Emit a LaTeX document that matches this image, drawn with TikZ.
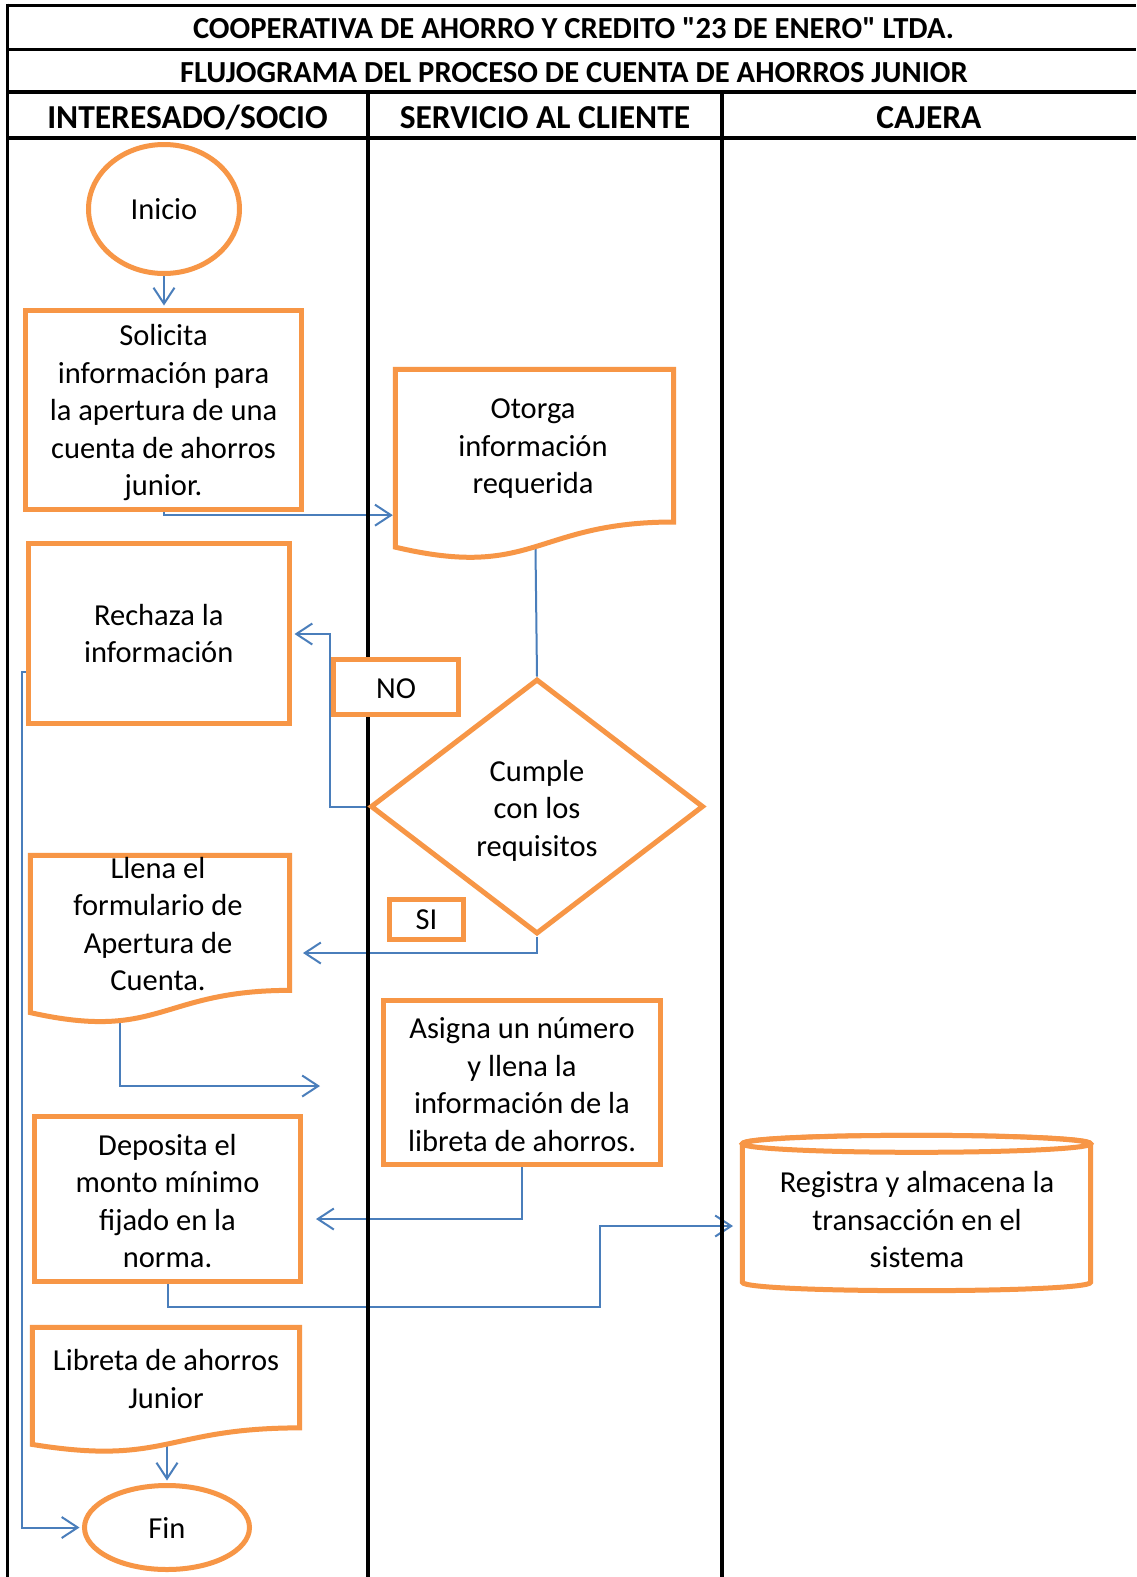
\documentclass[tikz,border=0pt]{standalone}
\usepackage{fontspec}
\setmainfont{Carlito}
\usetikzlibrary{shapes.geometric,arrows.meta,calc}

\definecolor{shapeorange}{HTML}{F79646}
\definecolor{linkblue}{HTML}{4A7EBB}

\pgfdeclarelayer{paper}
\pgfdeclarelayer{links}
\pgfdeclarelayer{grid}
\pgfsetlayers{paper,links,grid,main}

% document symbol with a wavy lower edge, drawn over an invisible frame node
\newcommand\docoutline[1]{%
  \path[outline] (#1.north west) -- (#1.north east)
    -- ($(#1.north east)!0.802!(#1.south east)$)
    .. controls ($(#1.north)!0.802!(#1.south)$) and ($(#1.north)!1.1075!(#1.south)$)
    .. ($(#1.north west)!0.934!(#1.south west)$) -- cycle;}

\begin{document}
\begin{tikzpicture}[x=1pt,y=-1pt,
  every node/.style={font=\fontsize{30.5}{37.5}\selectfont, align=center, inner sep=0pt},
  every label/.style={font=\fontsize{30.5}{37.5}\selectfont, align=center, inner sep=0pt},
  outline/.style={draw=shapeorange, line width=5pt, fill=white, line join=miter},
  box/.style={outline, rectangle},
  frame/.style={rectangle, draw=none},
  link/.style={draw=linkblue, line width=2pt},
  arrowlink/.style={link, -{Straight Barb[length=16pt,width=21pt]}},
  tonode/.style={arrowlink, shorten >=2.5pt},
  title/.style={font=\fontsize{30.6}{36}\selectfont\bfseries, anchor=base},
  lane/.style={font=\fontsize{33.5}{40}\selectfont\bfseries, anchor=base},
  rule/.style={black, line width=#1},
]
\useasboundingbox (0,0) rectangle (1136,1577);
\begin{pgfonlayer}{paper}
  \fill[white] (0,0) rectangle (1136,1577);
\end{pgfonlayer}

% ---------- table frame ----------
\begin{pgfonlayer}{grid}
  \draw[rule=3pt] (7,5) -- (1136,5);
  \draw[rule=3pt] (7,49.5) -- (1136,49.5);
  \draw[rule=4pt] (7,92) -- (1136,92);
  \draw[rule=4pt] (7,137.5) -- (1136,137.5);
  \draw[rule=3pt] (7,3.5) -- (7,1577);
  \draw[rule=4pt] (368,92) -- (368,1577);
  \draw[rule=4pt] (722,92) -- (722,1577);
\end{pgfonlayer}

\node[title] (coop) at (573.5,38.5) {COOPERATIVA DE AHORRO Y CREDITO \textquotedbl 23 DE ENERO\textquotedbl{} LTDA.};
\node[title] (flujo) at (574,82) {FLUJOGRAMA DEL PROCESO DE CUENTA DE AHORROS JUNIOR};
\node[lane] (socio) at (187.5,128.3) {INTERESADO/SOCIO};
\node[lane] (servicio) at (545,128.3) {SERVICIO AL CLIENTE};
\node[lane] (cajera) at (929,128.3) {CAJERA};

% ---------- flow symbols ----------
\node[outline, ellipse, minimum width=151pt, minimum height=129pt] (inicio) at (164,209) {Inicio};

\node[box, minimum width=276pt, minimum height=199pt,
  label={[name=solicitatext, yshift=-3pt]center:{Solicita\\información para\\la apertura de una\\cuenta de ahorros\\junior.}}]
  (solicita) at (163.5,410) {};

\node[frame, minimum width=278pt, minimum height=190pt] (otorga) at (534.5,464.5) {};
\docoutline{otorga}
\node (otorgatext) at (533,449) {Otorga\\información\\requerida};

\node[box, minimum width=261.5pt, minimum height=180pt] (rechaza) at (158.75,633.5)
  {Rechaza la\\información};

\node[box, minimum width=125.5pt, minimum height=54.5pt,
  label={[name=notext, yshift=-2pt]center:NO}] (no) at (396,687) {};

\node[outline, diamond, minimum width=333pt, minimum height=255pt,
  label={[name=decisiontext, yshift=-4pt]center:{Cumple\\con los\\requisitos}}]
  (decision) at (537,806.5) {};

\node[box, minimum width=74pt, minimum height=40pt] (si) at (426.5,919.5) {SI};

\node[frame, minimum width=259pt, minimum height=168pt] (llena) at (160,939.5) {};
\docoutline{llena}
\node (llenatext) at (158,924) {Llena el\\formulario de\\Apertura de\\Cuenta.};

\node[box, minimum width=277pt, minimum height=164pt,
  label={[name=asignatext, yshift=-2pt]center:{Asigna un número\\y llena la\\información de la\\libreta de ahorros.}}]
  (asigna) at (522,1082.5) {};

\node[box, minimum width=266pt, minimum height=165pt,
  label={[name=depositatext, yshift=-2pt]center:{Deposita el\\monto mínimo\\fijado en la\\norma.}}]
  (deposita) at (167.5,1199) {};

% storage cylinder
\node[frame, minimum width=348pt, minimum height=138pt] (reg) at (916.5,1213) {};
\path[outline] (reg.north west) -- (reg.south west)
  .. controls ($(reg.south west)+(0,11.3)$) and ($(reg.south east)+(0,11.3)$) .. (reg.south east)
  -- (reg.north east)
  .. controls ($(reg.north east)+(0,-11.3)$) and ($(reg.north west)+(0,-11.3)$) .. cycle;
\path[outline] (reg.north) ellipse [x radius=174pt, y radius=8.5pt];
\node (regtext) at (917,1220) {Registra y almacena la\\transacción en el\\sistema};

\node[frame, minimum width=267pt, minimum height=125pt] (libreta) at (166,1390) {};
\docoutline{libreta}
\node (libretatext) at (166,1379) {Libreta de ahorros\\Junior};

\node[outline, ellipse, minimum width=165pt, minimum height=84pt] (fin) at (167,1527.5) {Fin};

% ---------- connectors ----------
\coordinate (otorgain) at ($(otorga.north west)!0.766!(otorga.south west)$);
\coordinate (noturn) at (330,634);
\coordinate (siend) at (303,953);
\coordinate (rturn) at (22,672);
\coordinate (llenaturn) at (120,1086);
\coordinate (llenaend) at (320,1086);
\coordinate (asignaend) at (316,1219);
\coordinate (depturn) at (600,1307);
\coordinate (regin) at (733,1226);

\begin{pgfonlayer}{links}
  \draw[tonode] (inicio) -- (inicio |- solicita.north);
  \draw[tonode] (solicita.south) |- (otorgain);
  \draw[link] (otorga.center) -- (decision.north);
  \draw[tonode] (decision.west) -| (noturn) -- (rechaza.east |- noturn);
  \draw[arrowlink] (decision.south) |- (siend);
  \draw[tonode] (rechaza.west |- rturn) -- (rturn) |- (fin.west);
  \draw[arrowlink] (llena.center -| llenaturn) -- (llenaturn) -- (llenaend);
  \draw[arrowlink] (asigna.south) |- (asignaend);
  \draw[arrowlink] (deposita.south) |- (depturn) |- (regin);
  \draw[tonode] (libreta.center -| fin.north) -- (fin.north);
\end{pgfonlayer}
\end{tikzpicture}
\end{document}
